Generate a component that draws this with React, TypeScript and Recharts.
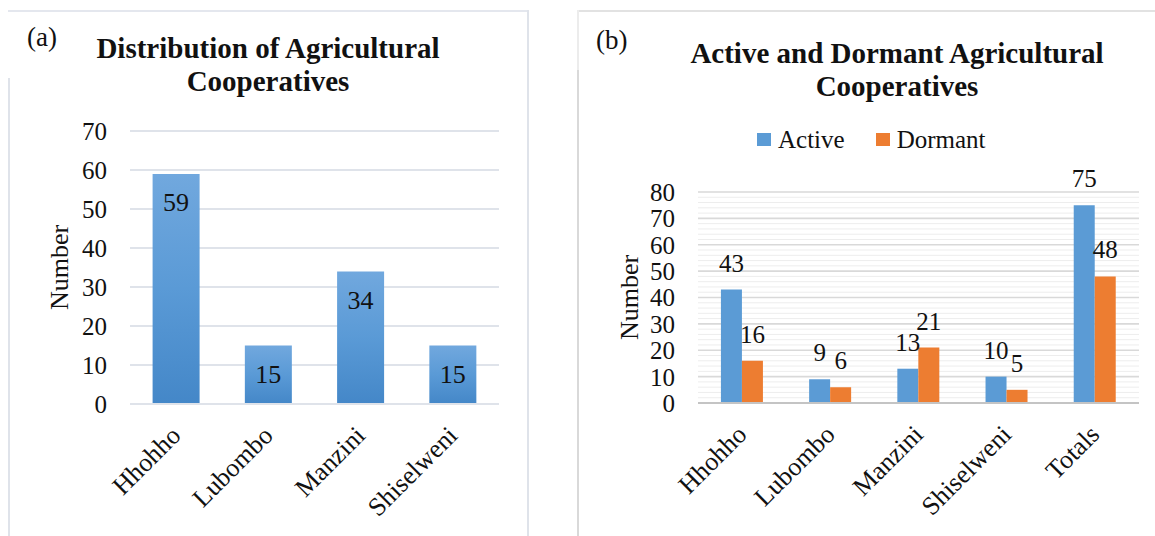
import { BarChart, Bar, XAxis, YAxis, CartesianGrid, LabelList, Legend, Label } from 'recharts';

const districts = ['Hhohho', 'Lubombo', 'Manzini', 'Shiselweni'];
const cooperativeCounts = [59, 15, 34, 15];

const statusGroups = ['Hhohho', 'Lubombo', 'Manzini', 'Shiselweni', 'Totals'];
const activeCounts = [43, 9, 13, 10, 75];
const dormantCounts = [16, 6, 21, 5, 48];

const ticksA = [0, 10, 20, 30, 40, 50, 60, 70];
const ticksB = [0, 10, 20, 30, 40, 50, 60, 70, 80];
const minorTicksB = [2, 4, 6, 8, 12, 14, 16, 18, 22, 24, 26, 28, 32, 34, 36, 38, 42, 44, 46, 48, 52, 54, 56, 58, 62, 64, 66, 68, 72, 74, 76, 78];

const distributionData = districts.map((name, i) => ({ name, count: cooperativeCounts[i] }));
const statusData = statusGroups.map((name, i) => ({ name, active: activeCounts[i], dormant: dormantCounts[i] }));

const SERIF = '"Liberation Serif", "Times New Roman", Times, serif';

const SlantTick = (props: any) => {
  const { x, y, payload } = props;
  return (
    <g transform={`translate(${x - 7},${y})`}>
      <text transform="rotate(-45)" textAnchor="end" dy="0.71em" fontFamily={SERIF} fontSize={26} fill="#111">
        {payload.value}
      </text>
    </g>
  );
};

const yTitle = (offsetX: number) => (props: any) => {
  const vb = props.viewBox || {};
  const cx = (vb.x || 0) + offsetX;
  const cy = (vb.y || 0) + (vb.height || 0) / 2;
  return (
    <text x={cx} y={cy} dy="0.35em" transform={`rotate(-90 ${cx} ${cy})`} textAnchor="middle" fontFamily={SERIF} fontSize={26} fill="#111">
      Number
    </text>
  );
};

const renderLegend = (props: any) => {
  const items = props.payload || [];
  return (
    <div style={{ display: 'flex', alignItems: 'center', height: 25, paddingLeft: 180, fontFamily: SERIF, fontSize: 25, lineHeight: '25px', color: '#111' }}>
      {items.map((e: any, i: number) => (
        <div key={e.value} style={{ display: 'flex', alignItems: 'center', marginRight: i === 0 ? 31 : 0 }}>
          <span style={{ display: 'inline-block', width: 14, height: 13, background: e.color, marginRight: 7 }} />
          <span>{e.value}</span>
        </div>
      ))}
    </div>
  );
};

export default function App() {
  return (
    <div style={{ position: 'absolute', left: 0, top: 0, width: 1155, height: 536, overflow: 'hidden', background: '#fff', fontFamily: SERIF }}>
      <style>{`.recharts-wrapper svg text { font-family: ${SERIF} !important; }`}</style>
      {/* panel (a) frame */}
      <div style={{ position: 'absolute', left: 8, top: 10, width: 520, height: 2, background: '#e4e7ee' }} />
      <div style={{ position: 'absolute', left: 8, top: 78, width: 2, height: 470, background: '#dfe3ea' }} />
      <div style={{ position: 'absolute', left: 527, top: 10, width: 2, height: 540, background: '#dfe3ea' }} />
      {/* panel (b) frame */}
      <div style={{ position: 'absolute', left: 577, top: 10, width: 600, height: 2, background: '#e2e2e2' }} />
      <div style={{ position: 'absolute', left: 577, top: 10, width: 2, height: 60, background: '#ececec' }} />
      <div style={{ position: 'absolute', left: 577, top: 70, width: 2, height: 480, background: '#d9d9d9' }} />

      <div style={{ position: 'absolute', left: 27, top: 22, fontSize: 27, lineHeight: '30px', color: '#111' }}>(a)</div>
      <div style={{ position: 'absolute', left: 8, top: 32, width: 520, textAlign: 'center', fontSize: 29, fontWeight: 700, lineHeight: '33px', color: '#111' }}>
        Distribution of Agricultural
        <br />
        Cooperatives
      </div>

      <div style={{ position: 'absolute', left: 596, top: 25, fontSize: 27, lineHeight: '30px', color: '#111' }}>(b)</div>
      <div style={{ position: 'absolute', left: 577, top: 37, width: 640, textAlign: 'center', fontSize: 29, fontWeight: 700, lineHeight: '33px', color: '#111' }}>
        Active and Dormant Agricultural
        <br />
        Cooperatives
      </div>

      <div style={{ position: 'absolute', left: 8, top: 10 }}>
        <BarChart width={520} height={526} data={distributionData} margin={{ top: 121, right: 29, bottom: 0, left: 0 }} barCategoryGap="24.5%">
          <defs>
            <linearGradient id="coopGrad" x1="0" y1="0" x2="0" y2="1">
              <stop offset="0%" stopColor="#71a8de" />
              <stop offset="50%" stopColor="#5a9ad6" />
              <stop offset="100%" stopColor="#4487c8" />
            </linearGradient>
          </defs>
          <CartesianGrid vertical={false} stroke="#dfe3ea" strokeWidth={2} />
          <XAxis dataKey="name" interval={0} height={132} tickSize={0} tickMargin={20} axisLine={{ stroke: '#dfe3ea', strokeWidth: 2 }} tickLine={false} tick={SlantTick} />
          <YAxis width={122} domain={[0, 70]} ticks={ticksA} interval={0} tickSize={0} tickMargin={23} axisLine={false} tickLine={false} tick={{ fontFamily: SERIF, fontSize: 25, fill: '#111' }}>
            <Label content={yTitle(51)} />
          </YAxis>
          <Bar dataKey="count" fill="url(#coopGrad)" isAnimationActive={false}>
            <LabelList dataKey="count" position="insideTop" offset={19} fill="#111" fontSize={26} fontFamily={SERIF} />
          </Bar>
        </BarChart>
      </div>

      <div style={{ position: 'absolute', left: 577, top: 10 }}>
        <BarChart width={578} height={526} data={statusData} margin={{ top: 182, right: 16, bottom: 0, left: 0 }} barCategoryGap="26%" barGap={0}>
          <CartesianGrid vertical={false} horizontalValues={minorTicksB} stroke="#ededed" strokeWidth={1} />
          <CartesianGrid vertical={false} stroke="#d9d9d9" strokeWidth={1.6} />
          <XAxis dataKey="name" interval={0} height={133} tickSize={0} tickMargin={20} axisLine={{ stroke: '#c4c4c4', strokeWidth: 2 }} tickLine={false} tick={SlantTick} />
          <YAxis width={121} domain={[0, 80]} ticks={ticksB} interval={0} tickSize={0} tickMargin={23} axisLine={false} tickLine={false} tick={{ fontFamily: SERIF, fontSize: 25, fill: '#111' }}>
            <Label content={yTitle(52)} />
          </YAxis>
          <Legend verticalAlign="middle" align="center" content={renderLegend} wrapperStyle={{ top: 117, left: 0, width: 578 }} />
          <Bar dataKey="active" name="Active" fill="#5b9bd5" isAnimationActive={false}>
            <LabelList dataKey="active" position="top" offset={18} fill="#111" fontSize={25} fontFamily={SERIF} />
          </Bar>
          <Bar dataKey="dormant" name="Dormant" fill="#ed7d31" isAnimationActive={false}>
            <LabelList dataKey="dormant" position="top" offset={18} fill="#111" fontSize={25} fontFamily={SERIF} />
          </Bar>
        </BarChart>
      </div>
    </div>
  );
}
